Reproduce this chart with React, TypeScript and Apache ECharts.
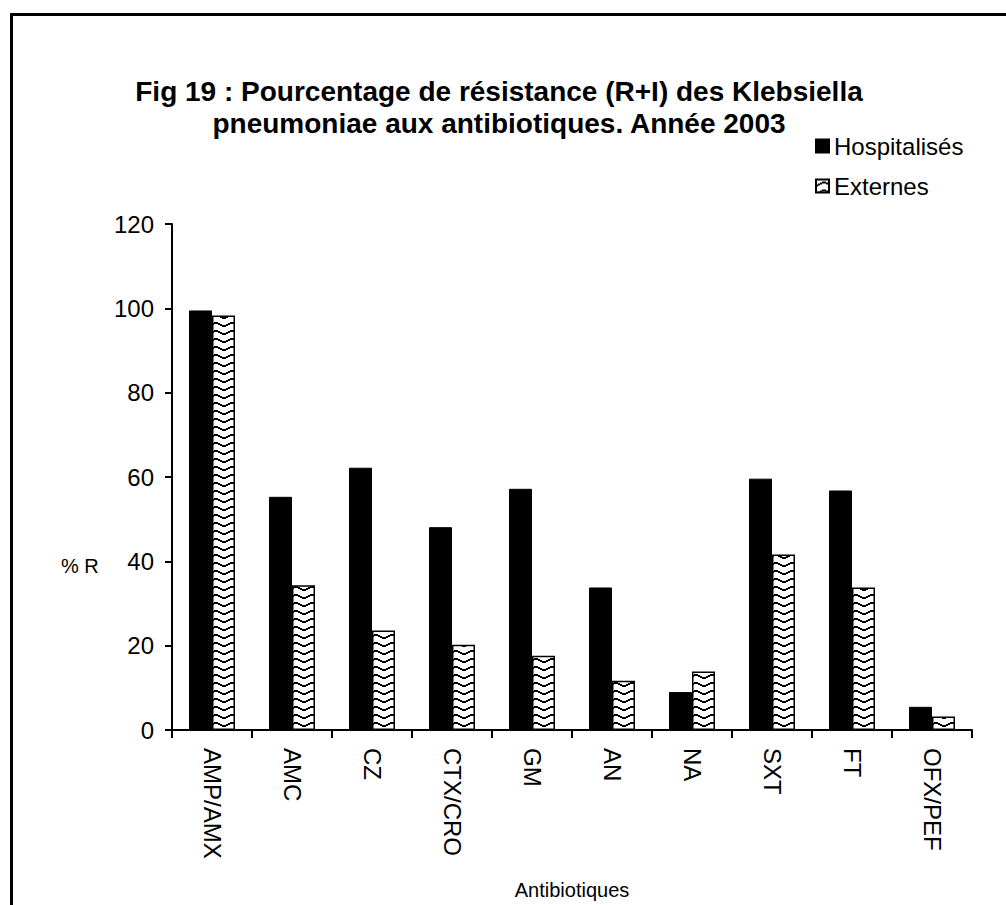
import React, { useEffect, useRef } from "react";
import * as echarts from "echarts";

const categories = ["AMP/AMX", "AMC", "CZ", "CTX/CRO", "GM", "AN", "NA", "SXT", "FT", "OFX/PEF"];
const hospitalises = [99.5, 55.3, 62.2, 48.1, 57.2, 33.8, 9.0, 59.6, 56.8, 5.5];
const externes = [98.3, 34.3, 23.6, 20.2, 17.6, 11.7, 13.9, 41.6, 33.8, 3.2];
const seriesNames = ["Hospitalisés", "Externes"];
const yTicks = { min: 0, max: 120, interval: 20 };

const titleText =
  "Fig 19 : Pourcentage de résistance (R+I) des Klebsiella\npneumoniae aux antibiotiques. Année 2003";

// Zigzag hatch tile used for the "Externes" bars
function makeZigzag(): HTMLCanvasElement {
  const c = document.createElement("canvas");
  c.width = 16;
  c.height = 8;
  const ctx = c.getContext("2d")!;
  ctx.imageSmoothingEnabled = false;
  ctx.fillStyle = "#ffffff";
  ctx.fillRect(0, 0, 16, 8);
  ctx.fillStyle = "#000000";
  // stepped chevron, 2px thick
  const ys = [5, 5, 4, 4, 3, 3, 2, 2, 2, 2, 3, 3, 4, 4, 5, 5];
  for (let x = 0; x < 16; x++) {
    ctx.fillRect(x, ys[x], 1, 2);
  }
  return c;
}

export default function App() {
  const ref = useRef<HTMLDivElement>(null);

  useEffect(() => {
    if (!ref.current) return;
    const chart = echarts.init(ref.current, undefined, { renderer: "svg" });
    const tile = makeZigzag();
    const hatch: any = { image: tile, repeat: "repeat", imageWidth: 16, imageHeight: 8 };
    const font = "'Liberation Sans', Arial, sans-serif";

    chart.setOption({
      animation: false,
      backgroundColor: "#ffffff",
      textStyle: { fontFamily: font, color: "#000" },
      title: {
        text: titleText,
        left: 494,
        textAlign: "center",
        top: 70,
        textStyle: {
          fontFamily: font,
          fontWeight: "bold",
          fontSize: 28,
          lineHeight: 32,
          color: "#000",
        },
      },
      legend: {
        orient: "vertical",
        left: 810,
        top: 129,
        itemWidth: 13,
        itemHeight: 13,
        itemGap: 16,
        icon: "rect",
        textStyle: { fontFamily: font, fontSize: 24, color: "#000", padding: [0, 0, 0, 0] },
        data: seriesNames,
      },
      grid: { left: 172, right: 34, top: 224, bottom: 168, containLabel: false },
      xAxis: {
        type: "category",
        data: categories,
        name: "Antibiotiques",
        nameLocation: "middle",
        nameGap: 150,
        nameTextStyle: { fontFamily: font, fontSize: 20, color: "#000" },
        axisLine: { lineStyle: { color: "#000", width: 2 } },
        axisTick: { show: true, length: 8, lineStyle: { color: "#000", width: 2 }, alignWithLabel: false },
        axisLabel: { rotate: -90, margin: 18, fontFamily: font, fontSize: 24, color: "#000" },
        splitLine: { show: false },
      },
      yAxis: {
        type: "value",
        min: yTicks.min,
        max: yTicks.max,
        interval: yTicks.interval,
        axisLine: { show: true, lineStyle: { color: "#000", width: 2 } },
        axisTick: { show: true, length: 7, lineStyle: { color: "#000", width: 2 } },
        axisLabel: { margin: 18, fontFamily: font, fontSize: 24, color: "#000" },
        splitLine: { show: false },
      },
      graphic: [
        {
          type: "rect",
          shape: { x: 11.5, y: 14.5, width: 1100, height: 1000 },
          style: { fill: "none", stroke: "#000", lineWidth: 3 },
          silent: true,
        },
        {
          type: "text",
          x: 61,
          y: 566,
          style: {
            text: "% R",
            fontFamily: font,
            fontSize: 20,
            fill: "#000",
            verticalAlign: "middle",
          },
        },
      ],
      series: [
        {
          name: seriesNames[0],
          type: "bar",
          data: hospitalises,
          barWidth: 23,
          barGap: "0%",
          itemStyle: { color: "#000", borderColor: "#000", borderWidth: 1 },
        },
        {
          name: seriesNames[1],
          type: "bar",
          data: externes,
          barWidth: 23,
          itemStyle: { color: hatch, borderColor: "#000", borderWidth: 1.5 },
        },
      ],
    });

    return () => chart.dispose();
  }, []);

  return (
    <div
      ref={ref}
      style={{ position: "absolute", left: 0, top: 0, width: 1006, height: 905 }}
    />
  );
}
